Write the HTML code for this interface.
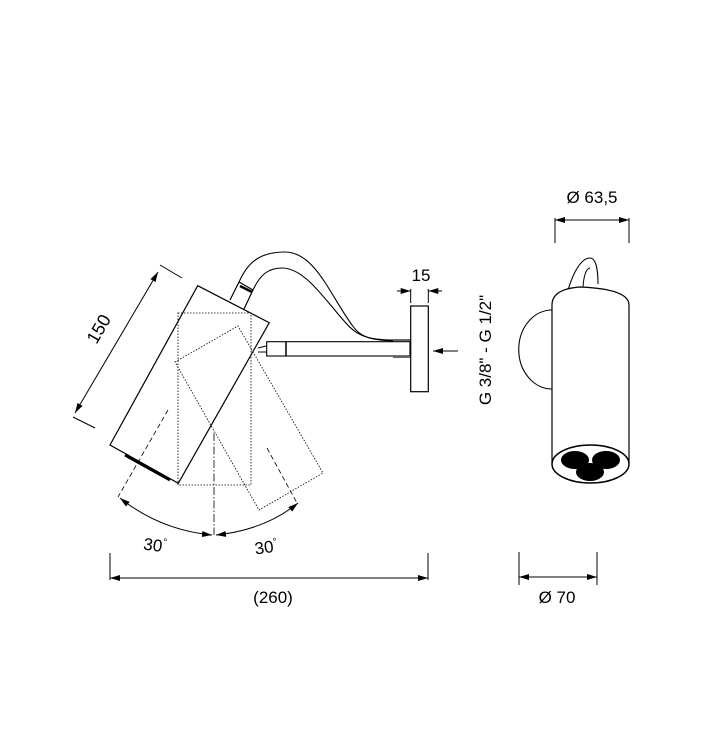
<!DOCTYPE html>
<html><head><meta charset="utf-8"><style>html,body{margin:0;padding:0;background:#fff}svg{display:block}</style></head>
<body>
<svg width="711" height="753" viewBox="0 0 711 753" xmlns="http://www.w3.org/2000/svg" font-family="Liberation Sans, sans-serif" fill="none" stroke="#000" stroke-width="1">
<defs>
<marker id="a" viewBox="0 0 10 6" refX="10" refY="3" markerWidth="10" markerHeight="6" orient="auto-start-reverse" markerUnits="userSpaceOnUse"><path d="M0 0L10 3L0 6z" fill="#000" stroke="none"/></marker>
</defs>
<!-- dotted rects -->
<rect x="178" y="313" width="73" height="172" stroke-dasharray="1.5 1.5" stroke-width="0.8"/>
<path d="M175 362L238 326L323 473L259 510Z" stroke-dasharray="1.5 1.5" stroke-width="0.8"/>
<!-- main cylinder -->
<path d="M197.7 285.7L269.3 322.7L178.3 483.3L110 445Z" stroke-width="1.2"/>
<path d="M125 455L170 480" stroke-width="3"/>
<!-- tube/cap -->
<path d="M230 300L239 282M244 309L253 290M239 282L253 290" stroke-width="1.2"/>
<path d="M240 286L252 292" stroke-width="2.5"/>
<!-- hose -->
<path d="M239 282C248 262 260 252 285 252C315 252 330 295 352 325C360 337 370 340 393 341" stroke-width="1.1"/>
<path d="M253 290C260 275 268 268 282 268C305 268 325 300 345 322C355 334 365 340 393 340" stroke-width="1.1"/>
<!-- arm -->
<rect x="266.7" y="341.7" width="143.3" height="14.3" fill="#fff" stroke-width="1.1"/>
<path d="M286 341.7V356" stroke-width="1.5"/>
<path d="M393 340H410M393 357H410" stroke="#666" stroke-width="2"/>
<path d="M258 348L266 346M258 352L266 352" stroke-width="1"/>
<!-- wall plate -->
<rect x="410.7" y="306" width="17.6" height="85.7" fill="#fff" stroke-width="1.2"/>
<path d="M458 351H433" marker-end="url(#a)"/>
<!-- 15 dim -->
<path d="M410.7 289V303M428.3 289V303"/>
<path d="M397 291H410.7" marker-end="url(#a)"/><path d="M442 291H428.3" marker-end="url(#a)"/>
<text x="421" y="281" font-size="17" fill="#000" stroke="none" text-anchor="middle">15</text>
<!-- 150 dim -->
<path d="M160 265L182 278M73 417L95 428"/>
<path d="M158 272L75 413" marker-start="url(#a)" marker-end="url(#a)"/>
<text x="0" y="0" font-size="18" fill="#000" stroke="none" text-anchor="middle" transform="translate(104,332) rotate(-60)">150</text>
<!-- centre lines -->
<path d="M214 433V535" stroke-dasharray="8 2 1.5 2" stroke-width="0.8"/>
<path d="M168 410L118 497" stroke-dasharray="5 3" stroke-width="0.8"/>
<path d="M267 448L297 503" stroke-dasharray="5 3" stroke-width="0.8"/>
<!-- arc -->
<path d="M120 498Q160 530 212 535" marker-start="url(#a)" marker-end="url(#a)"/>
<path d="M216 535Q265 530 298 503" marker-start="url(#a)" marker-end="url(#a)"/>
<text x="155" y="551" font-size="17" fill="#000" stroke="none" text-anchor="middle" transform="rotate(8 155 545)">30<tspan font-size="10" dy="-7">°</tspan></text>
<text x="266" y="553" font-size="17" fill="#000" stroke="none" text-anchor="middle" transform="rotate(-8 266 547)">30<tspan font-size="10" dy="-7">°</tspan></text>
<!-- 260 -->
<path d="M110 553V580M428 553V580"/>
<path d="M110 578H428" marker-start="url(#a)" marker-end="url(#a)"/>
<text x="273" y="603" font-size="17" fill="#000" stroke="none" text-anchor="middle">(260)</text>
<!-- G text -->
<text x="0" y="0" font-size="17" fill="#000" stroke="none" text-anchor="middle" transform="translate(491,350) rotate(-90)">G 3/8" - G 1/2"</text>
<!-- right view -->
<text x="592" y="203" font-size="17" fill="#000" stroke="none" text-anchor="middle">Ø 63,5</text>
<path d="M555 218V243M629 218V243"/>
<path d="M555 220H629" marker-start="url(#a)" marker-end="url(#a)"/>
<path d="M552 310A32 38 0 0 0 552 389" stroke-width="1.1"/>
<path d="M568 290C574 270 582 258 590 258C596 258 598 270 598 284" stroke-width="1.1"/>
<path d="M583 290C583 278 586 268 590 268" stroke-width="1"/>
<path d="M552 305Q552 289 580 287Q629 289 629 305V462H552Z" fill="#fff" stroke-width="1.2"/>
<ellipse cx="590.5" cy="464" rx="38.5" ry="19" fill="#fff" stroke-width="1.5"/>
<ellipse cx="575" cy="460" rx="14" ry="9" fill="#000" stroke="none"/>
<ellipse cx="606" cy="460" rx="14" ry="9" fill="#000" stroke="none"/>
<ellipse cx="590" cy="472" rx="14" ry="9" fill="#000" stroke="none"/>
<path d="M519 552V585M597 552V585"/>
<path d="M519 577H597" marker-start="url(#a)" marker-end="url(#a)"/>
<text x="557" y="603" font-size="17" fill="#000" stroke="none" text-anchor="middle">Ø 70</text>
</svg>
</body></html>
